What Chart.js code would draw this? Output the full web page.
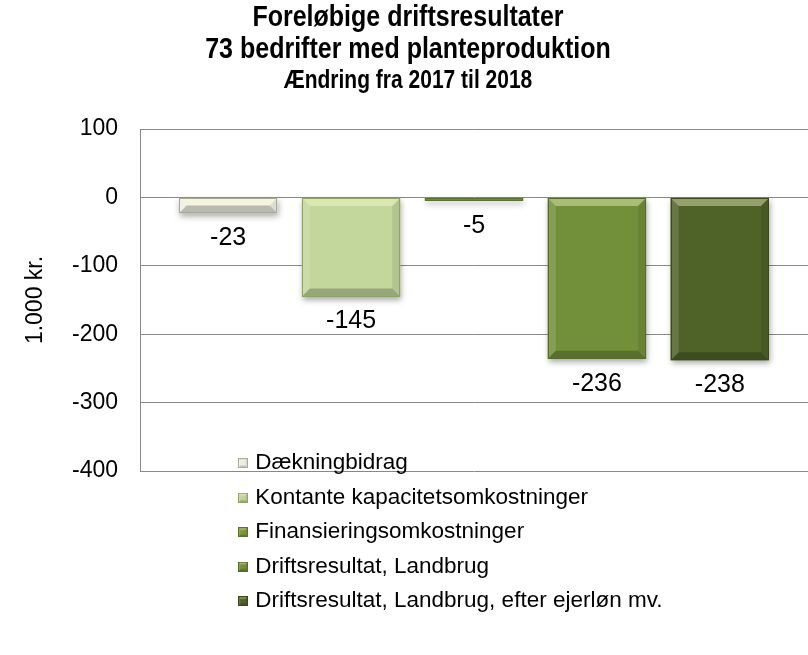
<!DOCTYPE html>
<html><head><meta charset="utf-8">
<script src="https://cdn.jsdelivr.net/npm/chart.js@4/dist/chart.umd.min.js"></script>
<style>html,body{margin:0;padding:0;background:#fff}canvas{display:block}</style>
</head><body>
<canvas id="c" width="808" height="655"></canvas>
<script>
const titleLines = ['Foreløbige driftsresultater', '73 bedrifter med planteproduktion'];
const subtitleText = 'Ændring fra 2017 til 2018';
const yAxisTitle = '1.000 kr.';
const categories = [''];
const seriesNames = ['Dækningbidrag', 'Kontante kapacitetsomkostninger', 'Finansieringsomkostninger', 'Driftsresultat, Landbrug', 'Driftsresultat, Landbrug, efter ejerløn mv.'];
const seriesValues = [-23, -145, -5, -236, -238];
const yTicks = [100, 0, -100, -200, -300, -400];
const fillColors = ['#EEEFE4', '#C3D69B', '#7A983C', '#728F3A', '#4F6228'];
const edgeColors = ['#A8AA98', '#8FA366', '#5B7230', '#566C2C', '#3A481D'];

Chart.defaults.font.family = "'Liberation Sans', Arial, sans-serif";
Chart.defaults.color = '#000';

function bevel(ctx, l, t, r, b, w) {
  const poly = (pts, col) => {
    ctx.beginPath(); ctx.moveTo(pts[0], pts[1]);
    for (let i = 2; i < pts.length; i += 2) ctx.lineTo(pts[i], pts[i + 1]);
    ctx.closePath(); ctx.fillStyle = col; ctx.fill();
  };
  poly([l, t, r, t, r - w, t + w, l + w, t + w], 'rgba(255,255,210,0.40)');
  poly([l, t, l + w, t + w, l + w, b - w, l, b], 'rgba(255,255,255,0.14)');
  poly([r, t, r, b, r - w, b - w, r - w, t + w], 'rgba(0,0,0,0.08)');
  poly([l, b, l + w, b - w, r - w, b - w, r, b], 'rgba(0,0,0,0.22)');
}

function makeMarker(fill, edge) {
  const c = document.createElement('canvas');
  c.width = 18; c.height = 10;
  const g = c.getContext('2d');
  const x0 = 8, s = 10;
  g.fillStyle = fill; g.fillRect(x0, 0, s, s);
  bevel(g, x0, 0, x0 + s, s, 2.5);
  g.strokeStyle = edge; g.lineWidth = 1; g.strokeRect(x0 + 0.5, 0.5, s - 1, s - 1);
  return c;
}
const markers = fillColors.map((f, i) => makeMarker(f, edgeColors[i]));

// horizontally condensed title text (the original uses a narrow bold face)
function condense(box, sx) {
  if (!box || box._cond) return;
  const orig = box.draw.bind(box);
  box.draw = function (area) {
    const ctx = this.ctx, cx = (this.left + this.right) / 2;
    ctx.save(); ctx.translate(cx, 0); ctx.scale(sx, 1); ctx.translate(-cx, 0);
    orig(area);
    ctx.restore();
  };
  box._cond = true;
}

const barFx = {
  id: 'barFx',
  beforeDatasetsDraw(chart) {
    const ctx = chart.ctx;
    ctx.save();
    ctx.shadowColor = 'rgba(0,0,0,0.35)';
    ctx.shadowBlur = 6; ctx.shadowOffsetX = 1; ctx.shadowOffsetY = 3;
    chart.data.datasets.forEach((ds, i) => {
      chart.getDatasetMeta(i).data.forEach(el => {
        const l = el.x - el.width / 2, r = el.x + el.width / 2;
        const t = Math.min(el.y, el.base), b = Math.max(el.y, el.base);
        ctx.fillStyle = fillColors[i];
        ctx.fillRect(l, t, r - l, b - t);
      });
    });
    ctx.restore();
  },
  afterDatasetsDraw(chart) {
    const ctx = chart.ctx;
    ctx.save();
    chart.data.datasets.forEach((ds, i) => {
      chart.getDatasetMeta(i).data.forEach((el, j) => {
        const l = el.x - el.width / 2, r = el.x + el.width / 2;
        const t = Math.min(el.y, el.base), b = Math.max(el.y, el.base);
        const w = Math.min(8, (b - t) / 2);
        bevel(ctx, l, t, r, b, w);
        ctx.strokeStyle = edgeColors[i]; ctx.lineWidth = 1;
        ctx.strokeRect(Math.round(l) + 0.5, Math.round(t) + 0.5, Math.round(r - l) - 1, Math.max(0, Math.round(b - t) - 1));
        const v = ds.data[j];
        ctx.fillStyle = '#000';
        ctx.font = "25px 'Liberation Sans', Arial, sans-serif";
        ctx.textAlign = 'center'; ctx.textBaseline = 'middle';
        ctx.fillText(String(v), el.x, v < 0 ? el.y + 25 : el.y - 25);
      });
    });
    ctx.restore();
  },
  afterLayout(chart) {
    const lg = chart.legend, ca = chart.chartArea;
    lg.left = ca.left + 82;
    lg.top = ca.bottom - 31;
    lg.right = lg.left + 560;
    lg.bottom = lg.top + 260;
    lg.width = lg.right - lg.left;
    lg.height = lg.bottom - lg.top;
    condense(chart.titleBlock, 0.862);
    condense(chart.boxes.find(b => b.options && b.options.text === subtitleText), 0.84);
  }
};

new Chart(document.getElementById('c'), {
  type: 'bar',
  data: {
    labels: categories,
    datasets: seriesNames.map((name, i) => ({
      label: name,
      data: [seriesValues[i]],
      backgroundColor: fillColors[i],
      borderWidth: 0,
      categoryPercentage: 0.92,
      barPercentage: 0.8
    }))
  },
  options: {
    responsive: false,
    animation: false,
    devicePixelRatio: 1,
    layout: { padding: { left: 8, right: 0, top: 0, bottom: 184 } },
    plugins: {
      title: {
        display: true, text: titleLines, color: '#000',
        font: { size: 29, weight: 'bold', lineHeight: '32px' },
        padding: { top: 2, bottom: 0 }
      },
      subtitle: {
        display: true, text: subtitleText, color: '#000',
        font: { size: 25, weight: 'bold', lineHeight: '30px' },
        padding: { top: 0, bottom: 33 }
      },
      legend: {
        position: 'chartArea', align: 'start',
        labels: {
          usePointStyle: true, boxWidth: 10, boxHeight: 10, padding: 12,
          font: { size: 22.5 }, color: '#000',
          generateLabels: (chart) => chart.data.datasets.map((ds, i) => ({
            text: ds.label, pointStyle: markers[i], fillStyle: fillColors[i],
            strokeStyle: 'transparent', lineWidth: 0, hidden: false, datasetIndex: i
          }))
        }
      },
      tooltip: { enabled: false }
    },
    scales: {
      x: { display: false },
      y: {
        min: Math.min(...yTicks), max: Math.max(...yTicks),
        afterBuildTicks: (s) => { s.ticks = yTicks.map(v => ({ value: v })); },
        afterFit: (s) => { s.width = 132; },
        grid: { color: '#888', lineWidth: 1, drawTicks: false },
        border: { display: true, color: '#888', width: 1 },
        ticks: { padding: 22, font: { size: 23 }, color: '#000' },
        title: { display: true, text: yAxisTitle, font: { size: 23, lineHeight: 1.2 }, color: '#000', padding: { top: 14, bottom: 0 } }
      }
    }
  },
  plugins: [barFx]
});
</script>
</body></html>
